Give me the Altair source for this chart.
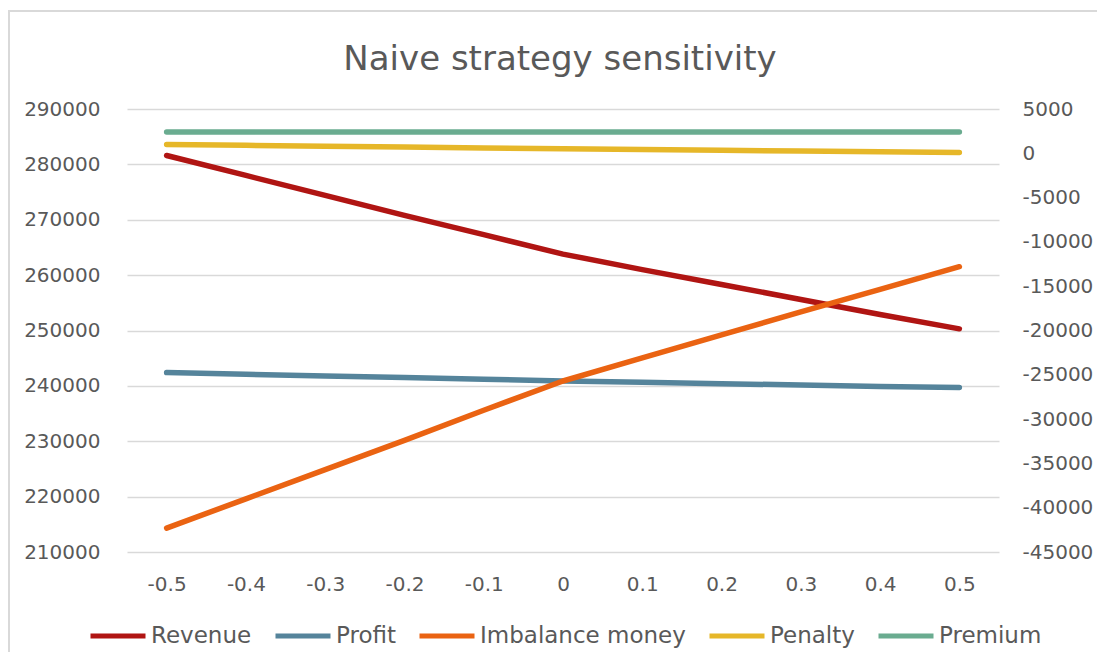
import altair as alt
import pandas as pd

# ---- data ----
x_labels = ["-0.5", "-0.4", "-0.3", "-0.2", "-0.1", "0", "0.1", "0.2", "0.3", "0.4", "0.5"]
revenue = [281600, 278000, 274400, 270800, 267300, 263800, 261000, 258300, 255600, 252900, 250300]
profit = [242400, 242100, 241800, 241500, 241200, 240900, 240650, 240400, 240150, 239900, 239700]
imbalance_money = [-42300, -39000, -35700, -32400, -29000, -25700, -23100, -20500, -17900, -15350, -12800]
penalty = [1000, 900, 800, 700, 600, 500, 420, 340, 260, 180, 100]
premium = [2400, 2400, 2400, 2400, 2400, 2400, 2400, 2400, 2400, 2400, 2400]

series_names = ["Revenue", "Profit", "Imbalance money", "Penalty", "Premium"]
series_colors = ["#B01513", "#55849B", "#EA6312", "#E6B729", "#6AAC90"]

left_ticks = [210000, 220000, 230000, 240000, 250000, 260000, 270000, 280000, 290000]
right_ticks = [-45000, -40000, -35000, -30000, -25000, -20000, -15000, -10000, -5000, 0, 5000]

title_text = "Naive strategy sensitivity"


def long(name, vals):
    return pd.DataFrame({"x": x_labels, "value": vals, "series": name})


left_df = pd.concat([long("Revenue", revenue), long("Profit", profit)], ignore_index=True)
right_df = pd.concat([long("Imbalance money", imbalance_money),
                      long("Penalty", penalty),
                      long("Premium", premium)], ignore_index=True)

FONT = "DejaVu Sans"
TXT = "#595959"
GRID = "#D9D9D9"

x_enc = alt.X("x:O", sort=x_labels,
              scale=alt.Scale(type="point", padding=0.5),
              axis=alt.Axis(title=None, labelAngle=0, ticks=False, domain=False,
                            labelPadding=22, labelFontSize=20, labelColor=TXT,
                            labelFont=FONT, grid=False))

color_enc = alt.Color("series:N",
                      scale=alt.Scale(domain=series_names, range=series_colors),
                      sort=series_names,
                      legend=alt.Legend(title=None, orient="none", direction="horizontal",
                                        legendX=-39, legendY=497,
                                        symbolType="stroke", symbolSize=3025,
                                        symbolStrokeWidth=5, labelFontSize=23,
                                        labelFont=FONT, labelColor=TXT, labelLimit=400,
                                        labelOffset=3, columnPadding=13))

left = alt.Chart(left_df).mark_line(strokeWidth=5.5, strokeCap="round", strokeJoin="round").encode(
    x=x_enc,
    y=alt.Y("value:Q",
            scale=alt.Scale(domain=[210000, 290000], nice=False, zero=False),
            axis=alt.Axis(title=None, values=left_ticks, labelExpr="'' + datum.value",
                          grid=True, gridColor=GRID, gridWidth=1.5, domain=False,
                          ticks=False, labelPadding=27, labelFontSize=20,
                          labelColor=TXT, labelFont=FONT, orient="left")),
    color=color_enc,
)

right = alt.Chart(right_df).mark_line(strokeWidth=5.5, strokeCap="round", strokeJoin="round").encode(
    x=x_enc,
    y=alt.Y("value:Q",
            scale=alt.Scale(domain=[-45000, 5000], nice=False, zero=False),
            axis=alt.Axis(title=None, values=right_ticks, labelExpr="'' + datum.value",
                          grid=False, domain=False, ticks=False, labelPadding=23,
                          labelFontSize=20, labelColor=TXT, labelFont=FONT,
                          orient="right")),
    color=color_enc,
)

one = pd.DataFrame({"t": [title_text]})
frame_left = alt.Chart(one).mark_rule(stroke=GRID, strokeWidth=2, clip=False).encode(
    x=alt.value(-118), y=alt.value(-98), y2=alt.value(800))
frame_top = alt.Chart(one).mark_rule(stroke=GRID, strokeWidth=2, clip=False).encode(
    x=alt.value(-119), x2=alt.value(1200), y=alt.value(-98))
title = alt.Chart(one).mark_text(font=FONT, fontSize=34, color=TXT, align="center",
                                 baseline="alphabetic", clip=False).encode(
    text="t:N", x=alt.value(433), y=alt.value(-39))

chart = alt.layer(frame_left, frame_top, title, left, right).resolve_scale(y="independent").properties(
    width=872,
    height=443,
    autosize=alt.AutoSizeParams(type="none"),
    padding={"left": 119, "top": 101, "right": 98, "bottom": 100},
    background="white",
).configure_view(stroke=None)

chart.save("out.html", embed_options={"renderer": "svg", "actions": False})
